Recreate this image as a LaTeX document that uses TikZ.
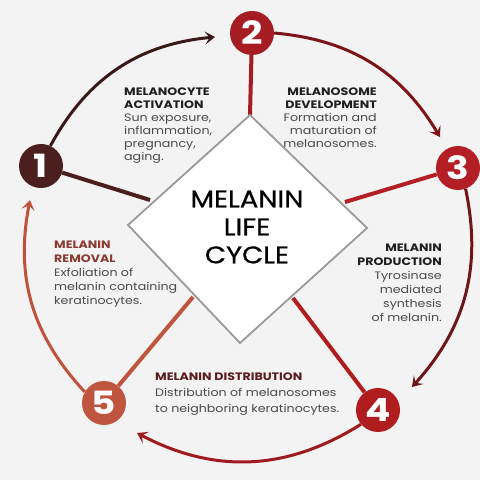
\documentclass[tikz,border=0pt]{standalone}
\usepackage{fontspec}
\setmainfont{Poppins}[FakeStretch=1.17]
\newfontfamily\centerfont{Poppins}[FakeStretch=1.14,FakeBold=0.7]
\usetikzlibrary{arrows.meta}
\pgfdeclarelayer{bg}
\pgfsetlayers{bg,main}
\definecolor{bgc}{HTML}{F4F3F3}
\definecolor{cA}{HTML}{4B1F1E}
\definecolor{cB}{HTML}{A51D22}
\definecolor{cC}{HTML}{B41F26}
\definecolor{cD}{HTML}{B01D1F}
\definecolor{cE}{HTML}{C0553F}
\definecolor{aA}{HTML}{3A1A18}
\definecolor{aB}{HTML}{7D1418}
\definecolor{aC}{HTML}{6D1518}
\definecolor{aD}{HTML}{9E1A1C}
\definecolor{aE}{HTML}{C0513C}
\definecolor{bodyc}{HTML}{4A4A4A}
\definecolor{titc}{HTML}{1F1F1F}
\definecolor{remc}{HTML}{8A3A30}
\definecolor{disc}{HTML}{5A1A1E}
\definecolor{silver}{HTML}{9A9A9A}
\tikzset{
  numc/.style={circle,minimum size=44pt,inner sep=0pt,fill=#1,text=white,font=\fontsize{32}{32}\selectfont\bfseries},
  spoke/.style={line width=4pt,draw=#1},
  cyc/.style={line width=3pt,draw=#1,-{Stealth[length=10pt,width=13pt,inset=4.5pt]}},
  tblock/.style={inner sep=0pt,text=bodyc,font=\fontsize{10.8}{13}\selectfont}
}
\begin{document}
\begin{tikzpicture}[x=1pt,y=1pt]
\begin{pgfonlayer}{bg}
\fill[bgc] (0,0) rectangle (480,480);
\end{pgfonlayer}
\useasboundingbox (0,0) rectangle (480,480);
% diamond
\coordinate (dT) at (250,365);
\coordinate (dR) at (367,252);
\coordinate (dB) at (240,137);
\coordinate (dL) at (128,255);
% spoke ends
\coordinate (s1) at (150,280);
\coordinate (s3) at (345,278);
\coordinate (s4) at (293,182);
\coordinate (s5) at (193,183);
% arrow tips
\coordinate (t1) at (215,443);
\coordinate (t2) at (440,343);
\coordinate (t3) at (412,93);
\coordinate (t4) at (137,47);
\coordinate (t5) at (30,280);
% number circles
\node[numc=cA] (n1) at (41,314) {1};
\node[numc=cB] (n2) at (252,447) {2};
\node[numc=cC] (n3) at (458,312) {3};
\node[numc=cD] (n4) at (378,70) {4};
\node[numc=cE] (n5) at (104,77) {5};
\begin{pgfonlayer}{bg}
\draw[spoke=cA] (n1) -- (s1);
\draw[spoke=cB] (n2) -- (dT);
\draw[spoke=cC] (n3) -- (s3);
\draw[spoke=cD] (n4) -- (s4);
\draw[spoke=cE] (n5) -- (s5);
\end{pgfonlayer}
\draw[line width=1.8pt,draw=silver,fill=white,line join=miter] (dT) -- (dR) -- (dB) -- (dL) -- cycle;
\node[inner sep=0pt,align=center,text=black,font=\centerfont\fontsize{24}{28}\selectfont] (title) at (247,253) {MELANIN\\LIFE\\CYCLE};
% cycle arcs
\draw[cyc=aA] (n1.65) to[bend left=28] (t1);
\draw[cyc=aB] (n2.0) to[bend left=27] (t2);
\draw[cyc=aC] (n3.-70) to[bend left=27] (t3);
\draw[cyc=aD] (n4.220) to[bend left=30] (t4);
\draw[cyc=aE] (n5.150) to[bend left=27] (t5);
% text blocks
\node[tblock,anchor=north west,align=left] (b1) at (124,392) {{\color{titc}\bfseries MELANOCYTE}\\{\color{titc}\bfseries ACTIVATION}\\Sun exposure,\\inflammation,\\pregnancy,\\aging.};
\node[tblock,anchor=north east,align=right] (b2) at (377,392) {{\color{titc}\bfseries MELANOSOME}\\{\color{titc}\bfseries DEVELOPMENT}\\Formation and\\maturation of\\melanosomes.};
\node[tblock,anchor=north east,align=right,font=\fontsize{10.8}{14}\selectfont] (b3) at (442,236) {{\color{titc}\bfseries MELANIN}\\{\color{titc}\bfseries PRODUCTION}\\Tyrosinase\\mediated\\synthesis\\of melanin.};
\node[tblock,anchor=north west,align=left,font=\fontsize{10.8}{16}\selectfont] (b4) at (155,107) {{\color{disc}\bfseries MELANIN DISTRIBUTION}\\Distribution of melanosomes\\to neighboring keratinocytes.};
\node[tblock,anchor=north west,align=left,font=\fontsize{10.8}{14}\selectfont] (b5) at (54,239) {{\color{remc}\bfseries MELANIN}\\{\color{remc}\bfseries REMOVAL}\\Exfoliation of\\melanin containing\\keratinocytes.};
\end{tikzpicture}
\end{document}
